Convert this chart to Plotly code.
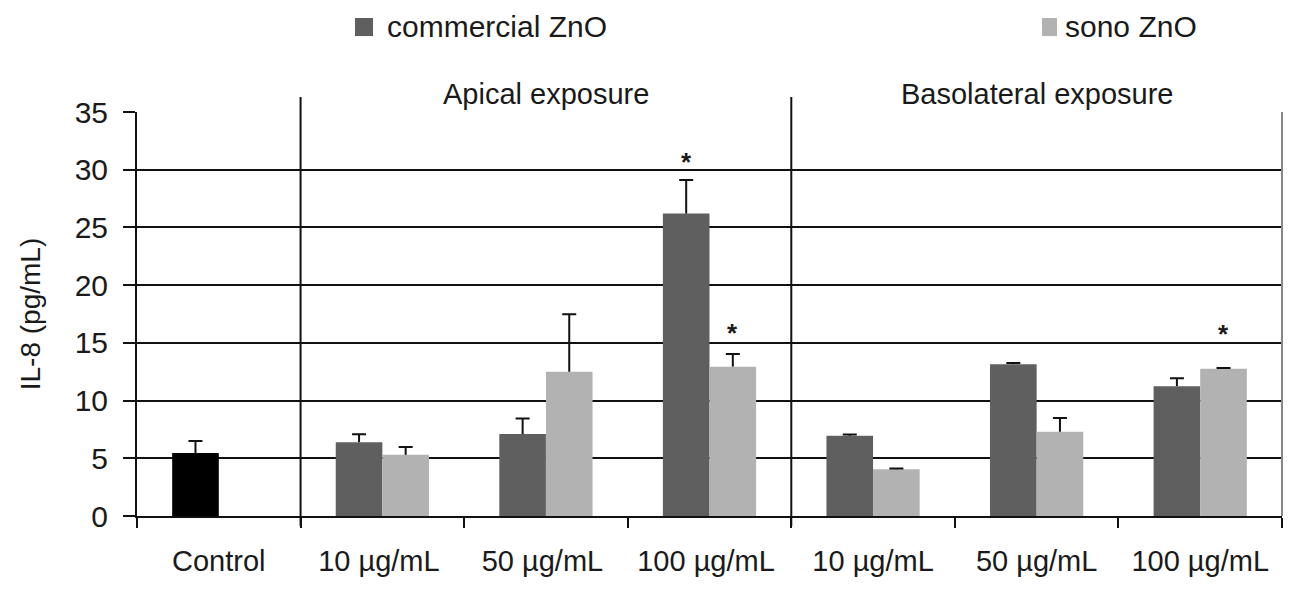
import plotly.graph_objects as go

categories = ["Control", "10 µg/mL ", "50 µg/mL ", "100 µg/mL ",
              "10 µg/mL", "50 µg/mL", "100 µg/mL"]
commercial = [5.45, 6.4, 7.1, 26.2, 6.95, 13.15, 11.25]
commercial_err = [1.05, 0.68, 1.35, 2.9, 0.1, 0.1, 0.68]
sono = [None, 5.3, 12.5, 12.94, 4.05, 7.3, 12.75]
sono_err = [None, 0.68, 4.98, 1.1, 0.07, 1.19, 0.07]
bar_colors_commercial = ["#000000"] + ["#5f5f5f"] * 6
sono_color = "#b2b2b2"
sig_labels = [("commercial", 3, 30.9), ("sono", 3, 16.1), ("sono", 6, 16.0)]
groups = ["Apical exposure", "Basolateral exposure"]
legend_names = ["commercial ZnO", "sono ZnO"]

FONT = "Liberation Sans, Arial, sans-serif"
TXT = "#1a1a1a"
ERRC = "#111111"


def upper(vals, errs):
    return [None if v is None else v + e for v, e in zip(vals, errs)]


fig = go.Figure()
series = [(commercial, commercial_err, bar_colors_commercial, legend_names[0]),
          (sono, sono_err, sono_color, legend_names[1])]
for vals, errs, col, name in series:
    fig.add_trace(go.Bar(
        x=categories, y=vals, name=name,
        marker=dict(color=col, line=dict(width=0)),
        error_y=dict(type="data", symmetric=False,
                     array=[0 if e is None else e for e in errs],
                     arrayminus=[0] * 7, color=ERRC, thickness=2, width=0),
    ))
# caps at the top of each error bar only
for vals, errs, col, name in series:
    fig.add_trace(go.Scatter(
        x=categories, y=upper(vals, [0 if e is None else e for e in errs]),
        mode="markers", marker=dict(opacity=0, size=1), showlegend=False,
        hoverinfo="skip",
        error_y=dict(type="data", array=[0] * 7, color=ERRC, thickness=2, width=7),
    ))

shapes = []
for xb in [0.5, 3.5]:
    shapes.append(dict(type="line", xref="x", yref="paper", x0=xb, x1=xb,
                       y0=-0.025, y1=1.037, line=dict(color="#111111", width=2)))
shapes.append(dict(type="line", xref="paper", yref="paper", x0=1, x1=1,
                   y0=0, y1=1, line=dict(color="#888888", width=2)))

annotations = []
# manual legend (swatch + label)
legend_items = [(0.1904, 0.2061, 0.2166, "#5f5f5f"), (0.7904, 0.8035, 0.8087, sono_color)]
for (sx0, sx1, tx, col), name in zip(legend_items, legend_names):
    shapes.append(dict(type="rect", xref="paper", yref="paper", x0=sx0, x1=sx1,
                       y0=1.188, y1=1.2327, fillcolor=col, line=dict(width=0)))
    annotations.append(dict(text=name, x=tx, xref="paper", y=1.2104, yref="paper",
                            xanchor="left", yanchor="middle", showarrow=False,
                            font=dict(size=30, color=TXT, family=FONT)))

for i, g in enumerate(groups):
    annotations.append(dict(text=g, x=2 + 3 * i, xref="x", y=1.0, yref="paper",
                            yanchor="bottom", yshift=0, showarrow=False,
                            font=dict(size=29, color=TXT, family=FONT)))
for ser, idx, yv in sig_labels:
    annotations.append(dict(text="<b>*</b>", x=idx, xref="x", y=yv, yref="y",
                            xshift=-23 if ser == "commercial" else 23,
                            yshift=-3, showarrow=False, yanchor="middle",
                            font=dict(size=26, color=TXT, family=FONT)))

# page body has an 8px default margin, so the figure is shrunk by 8px
fig.update_layout(
    width=1283, height=584,
    margin=dict(l=129, r=9, t=104, b=76),
    paper_bgcolor="white", plot_bgcolor="white",
    barmode="group", bargap=0.43, bargroupgap=0,
    scattermode="group", scattergap=0.43,
    font=dict(family=FONT, size=29, color=TXT),
    showlegend=False,
    shapes=shapes, annotations=annotations,
    xaxis=dict(type="category", showline=True, linecolor="#111111", linewidth=2,
               ticks="outside", tickson="boundaries", ticklen=10, tickwidth=2,
               tickcolor="#111111", showgrid=False, ticklabelstandoff=18,
               tickfont=dict(size=29, color=TXT, family=FONT)),
    yaxis=dict(range=[0, 35], dtick=5, showline=True, linecolor="#111111", linewidth=2,
               ticks="outside", ticklen=12, tickwidth=2, tickcolor="#111111",
               showgrid=True, gridcolor="#111111", gridwidth=2, zeroline=False,
               ticklabelstandoff=9,
               tickfont=dict(size=30, color=TXT, family=FONT),
               title=dict(text="IL-8 (pg/mL)", font=dict(size=28, color=TXT, family=FONT),
                          standoff=26)),
)

fig.write_html("out.html")
